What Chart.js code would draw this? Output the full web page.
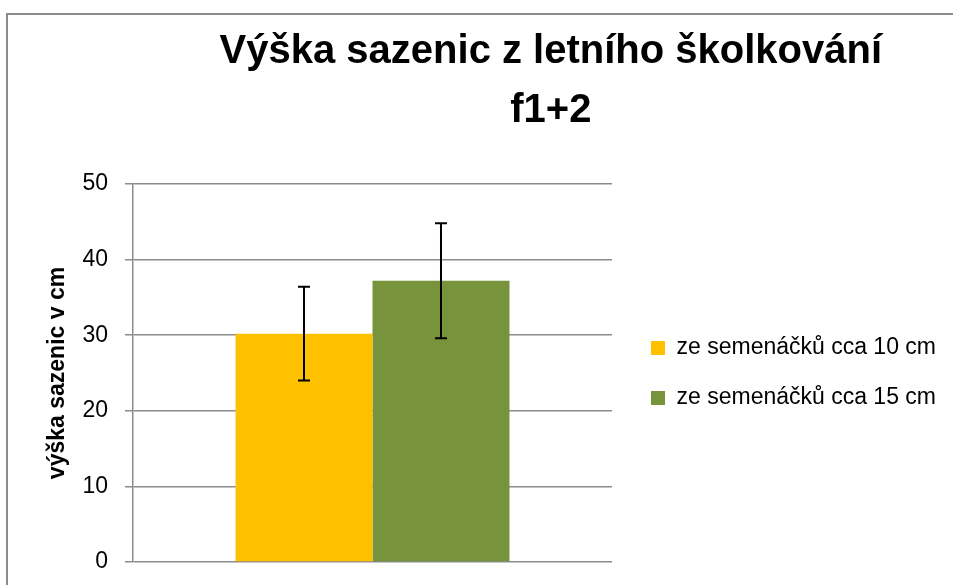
<!DOCTYPE html>
<html>
<head>
<meta charset="utf-8">
<script src="https://cdn.jsdelivr.net/npm/chart.js@4/dist/chart.umd.min.js"></script>
<style>
  html, body { margin: 0; padding: 0; background: #fff; overflow: hidden; }
  #wrap { position: relative; width: 953px; height: 585px; overflow: hidden; }
  #frame { position: absolute; left: 6px; top: 13px; width: 1200px; height: 900px;
           border-left: 2px solid #8c8c8c; border-top: 2px solid #8c8c8c; }
  #c { position: absolute; left: 0; top: 0; }
</style>
</head>
<body>
<div id="wrap">
  <div id="frame"></div>
  <canvas id="c" width="953" height="585"></canvas>
</div>
<script>
// ---- data ----
const categories = ['f1+2'];
const seriesNames = ['ze semenáčků cca 10 cm', 'ze semenáčků cca 15 cm'];
const heights10 = [30.2];
const heights15 = [37.2];
const errors10 = [6.2];
const errors15 = [7.6];
const yTicks = [0, 10, 20, 30, 40, 50];
const titleLines = ['Výška sazenic z letního školkování', 'f1+2'];
const yAxisTitle = 'výška sazenic v cm';

const seriesColors = ['#FFC000', '#77933C'];
const gridColor = '#8c8c8c';

Chart.defaults.font.family = "'Liberation Sans', Arial, sans-serif";
Chart.defaults.color = '#000';

const errorBarPlugin = {
  id: 'errorBars',
  afterDatasetsDraw(chart) {
    const ctx = chart.ctx;
    const yScale = chart.scales.y;
    ctx.save();
    ctx.strokeStyle = '#000';
    ctx.lineWidth = 2;
    chart.data.datasets.forEach((ds, i) => {
      const meta = chart.getDatasetMeta(i);
      meta.data.forEach((el, j) => {
        const v = ds.data[j];
        const e = ds.errors[j];
        const x = el.x;
        const yt = yScale.getPixelForValue(v + e);
        const yb = yScale.getPixelForValue(v - e);
        const cap = 6;
        ctx.beginPath();
        ctx.moveTo(x, yt); ctx.lineTo(x, yb);
        ctx.moveTo(x - cap, yt); ctx.lineTo(x + cap, yt);
        ctx.moveTo(x - cap, yb); ctx.lineTo(x + cap, yb);
        ctx.stroke();
      });
    });
    ctx.restore();
  }
};

const titlePlugin = {
  id: 'multiTitle',
  afterDraw(chart, args, opts) {
    const ctx = chart.ctx;
    ctx.save();
    ctx.fillStyle = '#000';
    ctx.font = "bold 40px 'Liberation Sans', Arial, sans-serif";
    ctx.textAlign = 'center';
    ctx.textBaseline = 'alphabetic';
    const cx = chart.width * opts.centerFrac;
    opts.lines.forEach((t, i) => {
      ctx.fillText(t, cx, opts.firstBaseline + i * opts.lineStep);
    });
    ctx.restore();
  }
};

new Chart(document.getElementById('c'), {
  type: 'bar',
  data: {
    labels: categories,
    datasets: [
      { label: seriesNames[0], data: heights10, errors: errors10,
        backgroundColor: seriesColors[0], borderWidth: 0 },
      { label: seriesNames[1], data: heights15, errors: errors15,
        backgroundColor: seriesColors[1], borderWidth: 0 }
    ]
  },
  options: {
    responsive: false,
    animation: false,
    layout: { padding: { top: 184, bottom: 23, left: 0, right: 7 } },
    datasets: { bar: { categoryPercentage: 0.572, barPercentage: 1.0 } },
    scales: {
      x: { display: false },
      y: {
        min: 0, max: 50,
        afterBuildTicks(scale) { scale.ticks = yTicks.map(v => ({ value: v })); },
        afterFit(scale) { scale.width = 133; scale.paddingTop = 0; scale.paddingBottom = 0; },
        ticks: { padding: 17, font: { size: 23 }, color: '#000' },
        grid: { color: gridColor, lineWidth: 1.5, tickLength: 8, tickColor: gridColor },
        border: { display: true, color: gridColor, width: 1.5 },
        title: {
          display: true, text: yAxisTitle, color: '#000',
          font: { size: 23, weight: 'bold', lineHeight: 1.2 },
          padding: { top: 44, bottom: 0 }
        }
      },
      gap: {
        type: 'linear', position: 'right', display: true,
        grid: { display: false }, border: { display: false },
        ticks: { display: false },
        afterFit(scale) { scale.width = 12; }
      }
    },
    plugins: {
      title: { display: false },
      tooltip: { enabled: false },
      legend: {
        position: 'right',
        align: 'center',
        maxWidth: 420,
        labels: {
          boxWidth: 14, boxHeight: 14, padding: 27,
          font: { size: 23 }, color: '#000'
        }
      },
      multiTitle: { lines: titleLines, centerFrac: 0.578, firstBaseline: 63, lineStep: 59 }
    }
  },
  plugins: [errorBarPlugin, titlePlugin]
});
</script>
</body>
</html>
